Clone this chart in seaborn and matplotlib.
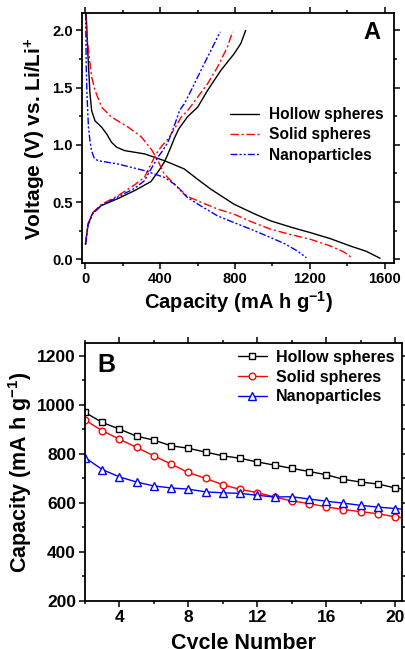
import matplotlib
matplotlib.use("Agg")
import matplotlib.pyplot as plt
from matplotlib.ticker import MultipleLocator
import seaborn as sns

# panel A: discharge / charge profiles (capacity mA h/g, voltage V)
hollow_dis_cap = [6, 12, 18, 26, 35, 53, 88, 115, 141, 168, 211, 318, 423, 529, 600, 670, 794, 900, 990, 1100, 1202, 1308, 1414, 1500, 1574]
hollow_dis_v = [2.15, 1.90, 1.70, 1.45, 1.30, 1.21, 1.155, 1.096, 1.023, 0.98, 0.95, 0.921, 0.862, 0.79, 0.70, 0.614, 0.482, 0.40, 0.336, 0.28, 0.233, 0.181, 0.117, 0.07, 0.009]
solid_dis_cap = [3, 10, 18, 35, 53, 88, 141, 230, 300, 354, 389, 423, 476, 546, 617, 706, 794, 884, 990, 1100, 1202, 1308, 1380, 1424]
solid_dis_v = [2.15, 1.95, 1.83, 1.594, 1.477, 1.33, 1.243, 1.155, 1.07, 0.96, 0.86, 0.745, 0.658, 0.55, 0.50, 0.44, 0.395, 0.33, 0.263, 0.215, 0.175, 0.117, 0.065, 0.014]
nano_dis_cap = [3, 6, 10, 18, 25, 34, 50, 69, 175, 317, 423, 476, 546, 617, 706, 794, 884, 990, 1060, 1133, 1181]
nano_dis_v = [2.15, 1.70, 1.45, 1.155, 1.05, 0.95, 0.88, 0.862, 0.833, 0.775, 0.716, 0.658, 0.54, 0.467, 0.38, 0.321, 0.263, 0.19, 0.14, 0.073, 0.014]

hollow_chg_cap = [2, 7, 16, 42, 87, 175, 264, 352, 400, 423, 442, 460, 477, 500, 522, 548, 601, 654, 725, 796, 831, 857]
hollow_chg_v = [0.13, 0.20, 0.307, 0.409, 0.47, 0.53, 0.60, 0.68, 0.79, 0.85, 0.92, 0.99, 1.06, 1.14, 1.19, 1.248, 1.33, 1.477, 1.652, 1.798, 1.886, 2.0]
solid_chg_cap = [2, 7, 16, 42, 87, 175, 264, 317, 352, 379, 400, 415, 442, 477, 513, 548, 601, 654, 707, 760, 787]
solid_chg_v = [0.13, 0.19, 0.31, 0.41, 0.48, 0.555, 0.65, 0.716, 0.833, 0.92, 0.97, 1.0, 1.05, 1.14, 1.243, 1.301, 1.418, 1.535, 1.681, 1.857, 1.988]
nano_chg_cap = [2, 7, 16, 42, 87, 175, 264, 317, 352, 388, 414, 442, 460, 486, 504, 530, 566, 601, 654, 690, 721]
nano_chg_v = [0.13, 0.18, 0.30, 0.40, 0.47, 0.545, 0.62, 0.687, 0.79, 0.89, 0.95, 1.023, 1.096, 1.213, 1.301, 1.36, 1.477, 1.594, 1.769, 1.886, 1.988]

# panel B: cycling (cycle 21 only shows as the line running off the edge)
cycles = list(range(2, 22))
hollow_cap = [968, 927, 900, 871, 855, 832, 822, 806, 791, 781, 766, 753, 740, 727, 714, 695, 684, 676, 660, 650]
solid_cap = [937, 893, 859, 825, 791, 757, 723, 699, 673, 654, 641, 623, 607, 596, 583, 572, 563, 555, 542, 535]
nano_cap = [784, 735, 705, 684, 668, 660, 655, 644, 640, 638, 630, 623, 624, 615, 606, 598, 589, 582, 576, 570]

names = ["Hollow spheres", "Solid spheres", "Nanoparticles"]
colors = ["black", "#ff0000", "#0000ff"]

sns.set_theme(style="ticks")
plt.rcParams["font.family"] = ["Liberation Sans", "DejaVu Sans"]
plt.rcParams["font.weight"] = "bold"
plt.rcParams["axes.labelweight"] = "bold"
plt.rcParams["text.color"] = "black"
plt.rcParams["axes.labelcolor"] = "black"
plt.rcParams["xtick.color"] = "black"
plt.rcParams["ytick.color"] = "black"
plt.rcParams["mathtext.fontset"] = "custom"
plt.rcParams["mathtext.rm"] = "Liberation Sans:bold"
plt.rcParams["mathtext.bf"] = "Liberation Sans:bold"
plt.rcParams["mathtext.default"] = "rm"

fig = plt.figure(figsize=(4.05, 6.49), dpi=100)
W, H = 405.0, 649.0
axA = fig.add_axes([81.7 / W, 1 - 263.3 / H, 312.6 / W, 250 / H])
axB = fig.add_axes([85 / W, 1 - 600.7 / H, 317 / W, 257.4 / H])

styles = ["-", (0, (6, 2, 1.5, 2)), (0, (5, 1.5, 1.5, 1.5, 1.5, 1.5))]
dis = [(hollow_dis_cap, hollow_dis_v), (solid_dis_cap, solid_dis_v), (nano_dis_cap, nano_dis_v)]
chg = [(hollow_chg_cap, hollow_chg_v), (solid_chg_cap, solid_chg_v), (nano_chg_cap, nano_chg_v)]
for i in range(3):
    sns.lineplot(x=dis[i][0], y=dis[i][1], sort=False, ax=axA, color=colors[i],
                 linewidth=1.0, linestyle=styles[i], label=names[i])
    sns.lineplot(x=chg[i][0], y=chg[i][1], sort=False, ax=axA, color=colors[i],
                 linewidth=1.0, linestyle=styles[i], label="_nolegend_")

axA.set_xlim(-18, 1650)
axA.set_ylim(-0.035, 2.15)
axA.xaxis.set_major_locator(MultipleLocator(400))
axA.xaxis.set_minor_locator(MultipleLocator(200))
axA.yaxis.set_major_locator(MultipleLocator(0.5))
axA.yaxis.set_minor_locator(MultipleLocator(0.25))
axA.set_xlabel("Capacity (mA h g$^{-1}$)", fontsize=14.5, labelpad=2)
axA.set_ylabel("Voltage (V) vs. Li/Li$^{+}$", fontsize=15, labelpad=3)
axA.text(0.955, 0.925, "A", transform=axA.transAxes, fontsize=17, fontweight="bold",
         ha="right", va="center")
legA = axA.legend(loc="upper left", bbox_to_anchor=(0.474, 0.625), frameon=False,
                  fontsize=11.2, handlelength=1.9, handletextpad=0.6,
                  labelspacing=0.35, borderpad=0, borderaxespad=0)

markers = ["s", "o", "^"]
msizes = [4.2, 4.8, 5.6]
for i, vals in enumerate([hollow_cap, solid_cap, nano_cap]):
    sns.lineplot(x=cycles, y=vals, ax=axB, color=colors[i], linewidth=1.0,
                 marker=markers[i], markersize=msizes[i], markerfacecolor="white",
                 markeredgecolor=colors[i], markeredgewidth=1.0, label=names[i])

axB.set_xlim(2, 20.4)
axB.set_ylim(200, 1250)
axB.xaxis.set_major_locator(MultipleLocator(4))
axB.xaxis.set_minor_locator(MultipleLocator(2))
axB.yaxis.set_major_locator(MultipleLocator(200))
axB.yaxis.set_minor_locator(MultipleLocator(100))
axB.set_xlabel("Cycle Number", fontsize=15.5, labelpad=6)
axB.set_ylabel("Capacity (mA h g$^{-1}$)", fontsize=15.5, labelpad=2)
axB.text(0.04, 0.915, "B", transform=axB.transAxes, fontsize=18, fontweight="bold",
         ha="left", va="center")
legB = axB.legend(loc="upper left", bbox_to_anchor=(0.483, 0.975), frameon=False,
                  fontsize=11.5, handlelength=1.8, handletextpad=0.55,
                  labelspacing=0.3, borderpad=0, borderaxespad=0)

for ax, fs in [(axA, 10.6), (axB, 12.5)]:
    for sp in ax.spines.values():
        sp.set_visible(True)
        sp.set_linewidth(1.3)
        sp.set_color("black")
    ax.tick_params(which="both", direction="out", top=True, right=True,
                   labeltop=False, labelright=False, width=1.1, color="black",
                   labelcolor="black")
    ax.tick_params(which="major", length=4.5, labelsize=fs, pad=2)
    ax.tick_params(which="minor", length=2.5)
    for lab in ax.get_xticklabels() + ax.get_yticklabels():
        lab.set_fontweight("bold")

fig.savefig("out.png", dpi=100)
